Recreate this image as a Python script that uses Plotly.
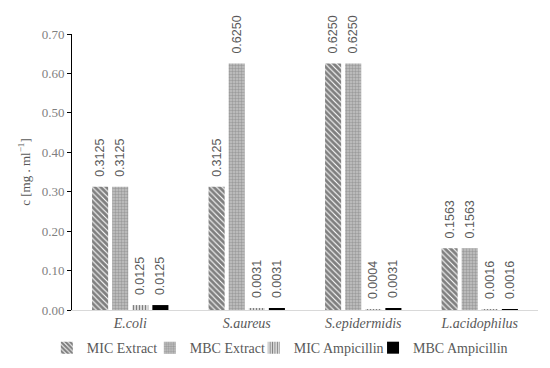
import plotly.graph_objects as go

categories = ["E.coli", "S.aureus", "S.epidermidis", "L.acidophilus"]
series_names = ["MIC Extract", "MBC Extract", "MIC Ampicillin", "MBC Ampicillin"]
mic_extract = [0.3125, 0.3125, 0.6250, 0.1563]
mbc_extract = [0.3125, 0.6250, 0.6250, 0.1563]
mic_ampicillin = [0.0125, 0.0031, 0.0004, 0.0016]
mbc_ampicillin = [0.0125, 0.0031, 0.0031, 0.0016]
y_ticks = [0.0, 0.1, 0.2, 0.3, 0.4, 0.5, 0.6, 0.7]

series_values = [mic_extract, mbc_extract, mic_ampicillin, mbc_ampicillin]
patterns = [
    dict(shape="\\", fgcolor="black", bgcolor="white", size=4, solidity=0.72),
    dict(shape=".", fgcolor="#747474", bgcolor="#c4c4c4", size=3, solidity=0.5),
    dict(shape="|", fgcolor="black", bgcolor="white", size=3, solidity=0.55),
    None,
]
colors = ["black", "#a6a6a6", "black", "black"]
legend_ids = ["legend", "legend2", "legend3", "legend4"]
legend_x = [-0.054, 0.167, 0.39, 0.646]

fig = go.Figure()
for name, vals, pat, col, lid in zip(series_names, series_values, patterns, colors, legend_ids):
    marker = dict(color=col, line=dict(width=0))
    if pat is not None:
        marker["pattern"] = pat
    fig.add_trace(go.Bar(
        x=categories, y=vals, name=name, marker=marker, legend=lid,
        texttemplate="\u00a0\u00a0%{y:.4f}", textposition="outside", textangle=-90,
        textfont=dict(family="Liberation Sans", size=12.5, color="#595959"),
        cliponaxis=False, constraintext="none",
    ))

legend_font = dict(family="Liberation Serif", size=14, color="#595959")
legends = {}
for lid, lx in zip(legend_ids, legend_x):
    legends[lid] = dict(orientation="h", x=lx, xanchor="left", y=-0.138, yanchor="middle",
                        font=legend_font, itemwidth=30, bgcolor="rgba(0,0,0,0)")

# the page body adds an 8px offset, so the figure is drawn 8px smaller
fig.update_layout(
    width=542, height=360,
    margin=dict(l=64, r=12, t=26, b=58, autoexpand=False),
    paper_bgcolor="white", plot_bgcolor="white",
    barmode="group", bargap=0.31, bargroupgap=0.2,
    showlegend=True,
    xaxis=dict(showline=True, linecolor="#d9d9d9", linewidth=1, ticks="",
               tickfont=dict(family="Liberation Serif", size=14, color="#595959", style="italic"),
               showgrid=False),
    yaxis=dict(range=[0, 0.7], tickvals=y_ticks, tickformat=".2f",
               showline=True, linecolor="black", linewidth=1,
               ticks="outside", ticklen=4, tickcolor="black",
               tickfont=dict(family="Liberation Serif", size=13, color="#7f7f7f"),
               showgrid=False, zeroline=False,
               title=dict(text="c [mg . ml<sup>−1</sup>]", standoff=8,
                          font=dict(family="Liberation Serif", size=13, color="#595959"))),
    **legends,
)

fig.write_html("out.html")
